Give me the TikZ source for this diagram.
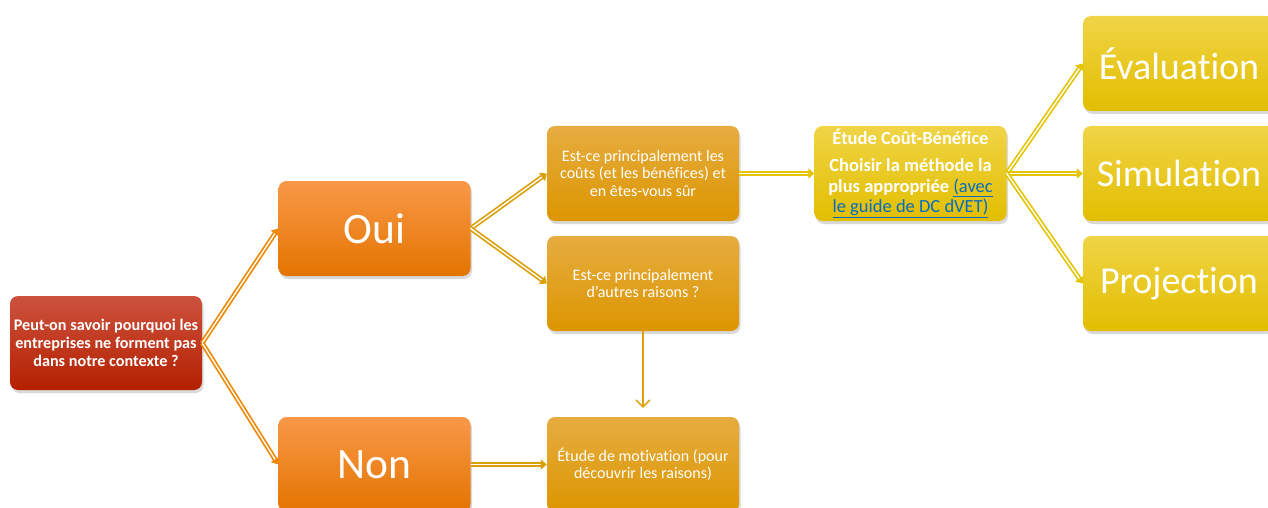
\documentclass[tikz,border=0pt]{standalone}
\usepackage{fontspec}
\setmainfont[Ligatures=NoCommon]{Carlito}
\usetikzlibrary{arrows.meta, shadows, calc}
\definecolor{qRedTop}{RGB}{204,82,62}
\definecolor{qRedMid}{RGB}{192,48,14}
\definecolor{qRedBot}{RGB}{180,32,0}
\definecolor{myOrangeTop}{RGB}{248,152,72}
\definecolor{myOrangeMid}{RGB}{250,134,0}
\definecolor{myOrangeBot}{RGB}{228,116,0}
\definecolor{myGoldTop}{RGB}{230,172,64}
\definecolor{myGoldMid}{RGB}{233,164,0}
\definecolor{myGoldBot}{RGB}{220,150,0}
\definecolor{myYellowTop}{RGB}{240,212,70}
\definecolor{myYellowMid}{RGB}{242,202,0}
\definecolor{myYellowBot}{RGB}{226,190,0}
\definecolor{arrOrange}{RGB}{238,136,0}
\definecolor{arrGold}{RGB}{218,160,10}
\definecolor{arrYellow}{RGB}{228,196,0}
\definecolor{linkBlue}{RGB}{0,108,196}
\tikzset{
  box/.style={rounded corners=8pt, minimum width=192pt, minimum height=95pt,
    align=center, text=white, inner sep=2pt,
    drop shadow={shadow xshift=1.5pt, shadow yshift=-3pt, opacity=0.3}},
  redbox/.style={box, top color=qRedTop, middle color=qRedMid, bottom color=qRedBot},
  orangebox/.style={box, top color=myOrangeTop, middle color=myOrangeMid, bottom color=myOrangeBot},
  goldbox/.style={box, top color=myGoldTop, middle color=myGoldMid, bottom color=myGoldBot},
  yellowbox/.style={box, top color=myYellowTop, middle color=myYellowMid, bottom color=myYellowBot},
  link/.style={line width=1.7pt, double=white, double distance=1.4pt,
    -{Triangle[length=6pt, width=10pt]}},
}
\newcommand{\lien}[1]{\textcolor{linkBlue}{\underline{#1}}}

\begin{document}
\begin{tikzpicture}[x=1pt, y=-1pt]
  \useasboundingbox (0,0) rectangle (1268,508);
  % Question
  \node[redbox, minimum height=94pt,
        font=\fontsize{16.2}{18}\selectfont\bfseries] (quest) at (106,343)
        {Peut-on savoir pourquoi les\\entreprises ne forment pas\\dans notre contexte ?};
  % Oui / Non
  \node[orangebox, font=\fontsize{43.5}{48}\selectfont] (oui) at (374.5,228.5) {Oui};
  \node[orangebox, font=\fontsize{43.5}{48}\selectfont] (non) at (374.5,464.5) {Non};
  % Raisons
  \node[goldbox, font=\fontsize{16}{17.5}\selectfont] (couts) at (643,173.5)
        {Est-ce principalement les\\coûts (et les bénéfices) et\\en êtes-vous sûr};
  \node[goldbox, font=\fontsize{16}{17.5}\selectfont] (autres) at (643,283.5)
        {Est-ce principalement\\d'autres raisons ?};
  \node[goldbox, font=\fontsize{16}{17.5}\selectfont] (motiv) at (643,464.5)
        {Étude de motivation (pour\\découvrir les raisons)};
  % Etude cout-benefice
  \node[yellowbox, font=\fontsize{18.5}{20.5}\selectfont] (acb) at (910.5,173.5)
        {\textbf{Étude Coût-Bénéfice}\\[7pt]\textbf{Choisir la méthode la}\\
         \textbf{plus appropriée} \lien{(avec}\\\lien{le guide de DC dVET)}};
  % Methodes
  \node[yellowbox, font=\fontsize{38}{42}\selectfont] (eval) at (1179,63.5) {Évaluation};
  \node[yellowbox, font=\fontsize{38}{42}\selectfont] (simu) at (1179,173.5) {Simulation};
  \node[yellowbox, font=\fontsize{38}{42}\selectfont] (proj) at (1179,283.5) {Projection};
  % Connectors
  \draw[link, arrOrange] (quest.east) -- (oui.west);
  \draw[link, arrOrange] (quest.east) -- (non.west);
  \draw[link, arrGold] (oui.east) -- (couts.west);
  \draw[link, arrGold] (oui.east) -- (autres.west);
  \draw[link, arrGold] (non.east) -- (motiv.west);
  \draw[link, arrYellow] (couts.east) -- (acb.west);
  \draw[link, arrYellow] (acb.east) -- (eval.west);
  \draw[link, arrYellow] (acb.east) -- (simu.west);
  \draw[link, arrYellow] (acb.east) -- (proj.west);
  \coordinate (fin) at ($(motiv.north)+(0,-9)$);
  \draw[arrGold!90!orange, line width=1.3pt, -{Straight Barb[length=7pt, width=14pt]}]
        (autres.south) -- (fin);
\end{tikzpicture}
\end{document}
